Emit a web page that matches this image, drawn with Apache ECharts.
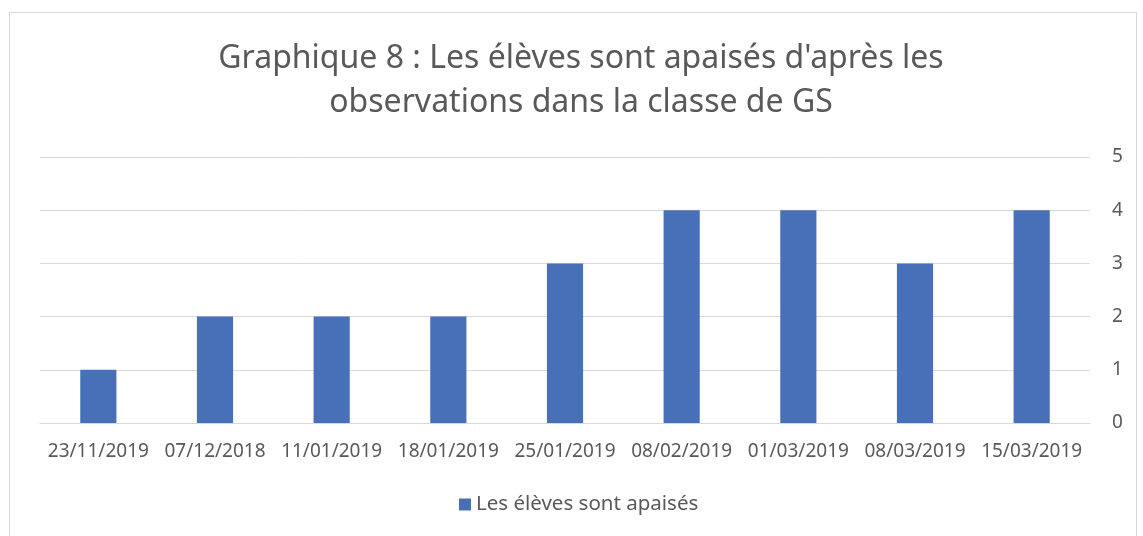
<!DOCTYPE html>
<html>
<head>
<meta charset="utf-8">
<script src="https://cdn.jsdelivr.net/npm/echarts@6/dist/echarts.min.js"></script>
<style>
html,body{margin:0;padding:0;background:#fff;}
#wrap{position:relative;width:1143px;height:536px;overflow:hidden;}
#frame{position:absolute;left:9px;top:12px;width:1128px;height:600px;border:1px solid #d9d9d9;box-sizing:border-box;}
#chart{position:absolute;left:0;top:0;width:1143px;height:536px;}
</style>
</head>
<body>
<div id="wrap">
    <div id="frame"></div>
    <div id="chart"></div>
</div>
<script>
// données
var dates = ['23/11/2019','07/12/2018','11/01/2019','18/01/2019','25/01/2019','08/02/2019','01/03/2019','08/03/2019','15/03/2019'];
var apaises = [1,2,2,2,3,4,4,3,4];
var serieNom = 'Les élèves sont apaisés';

var police = '"Noto Sans", "Open Sans", sans-serif';
var gris = '#595959';

var chart = echarts.init(document.getElementById('chart'));
chart.setOption({
    animation:false,
    title:{
        text:"Graphique 8 : Les élèves sont apaisés d'après les\nobservations dans la classe de GS",
        left:576,
        textAlign:'center',
        top:32,
        textStyle:{
            color:gris,
            fontFamily:police,
            fontWeight:'normal',
            fontSize:32,
            lineHeight:44
        }
    },
    legend:{
        data:[serieNom],
        bottom:16,
        left:454,
        itemWidth:12,
        itemHeight:12,
        icon:'rect',
        itemGap:6,
        textStyle:{color:gris,fontFamily:police,fontSize:20.5}
    },
    grid:{left:40,right:53,top:157,bottom:113},
    xAxis:{
        type:'category',
        data:dates,
        axisTick:{show:false},
        axisLine:{lineStyle:{color:'#d9d9d9',width:1}},
        axisLabel:{color:gris,fontFamily:police,fontSize:19,margin:19,interval:0}
    },
    yAxis:{
        type:'value',
        position:'right',
        min:0,
        max:5,
        interval:1,
        axisLine:{show:false},
        axisTick:{show:false},
        splitLine:{lineStyle:{color:'#d9d9d9',width:1}},
        axisLabel:{color:gris,fontFamily:police,fontSize:19,margin:22}
    },
    series:[{
        name:serieNom,
        type:'bar',
        data:apaises,
        barWidth:'31%',
        itemStyle:{color:'#4770b8'}
    }]
});
</script>
</body>
</html>
